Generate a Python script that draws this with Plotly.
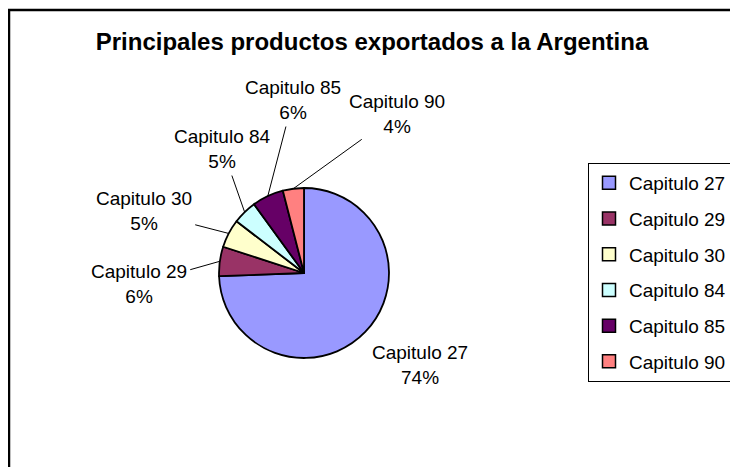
import math

import plotly.graph_objects as go

TITLE = 'Principales productos exportados a la Argentina'
CAPITULOS = ['Capitulo 27', 'Capitulo 29', 'Capitulo 30', 'Capitulo 84', 'Capitulo 85', 'Capitulo 90']
VALORES = [74.4, 5.6, 5.4, 4.6, 6.0, 4.0]
COLORES = ['#9999FF', '#993366', '#FFFFCC', '#CCFFFF', '#660066', '#FF8080']

# page has an 8px body margin, so the figure is a bit smaller than the window
W, H = 730, 459
FONT = 'Liberation Sans, Arial, sans-serif'

# pie centre and radius in figure pixels
cx, cy, r = 296, 265, 85
# where each data label sits, as pixel offset from the slice edge (layout only)
LABEL_OFFSETS = [(55, 33), (-81, 23), (-85, -22), (-22, -63), (25, -96), (104, -75)]

fig = go.Figure()
fig.add_trace(go.Pie(
    labels=CAPITULOS, values=VALORES, sort=False, direction='clockwise', rotation=0,
    marker=dict(colors=COLORES, line=dict(color='black', width=1.8)),
    textinfo='none', showlegend=False, hoverinfo='label+percent',
    domain=dict(x=[(cx - r) / W, (cx + r) / W], y=[1 - (cy + r) / H, 1 - (cy - r) / H]),
))

# Excel-like data labels with leader lines, anchored at each slice's mid angle
total = sum(VALORES)
acc = 0
annotations = []
for i, (name, val) in enumerate(zip(CAPITULOS, VALORES)):
    mid = (acc + val / 2) / total * 2 * math.pi
    acc += val
    px = cx + r * math.sin(mid)
    py = cy - r * math.cos(mid)
    dx, dy = LABEL_OFFSETS[i]
    annotations.append(dict(
        x=px / W, y=1 - py / H, xref='paper', yref='paper',
        text=f'{name}<br>{round(val / total * 100)}%',
        showarrow=True, arrowhead=0, arrowwidth=1, arrowcolor='black',
        ax=dx, ay=dy, standoff=0, startstandoff=2,
        font=dict(family=FONT, size=19, color='black'),
    ))
annotations[0]['arrowcolor'] = 'rgba(0,0,0,0)'

# legend entries as dummy squares so spacing can follow the original
for i, (name, col) in enumerate(zip(CAPITULOS, COLORES)):
    fig.add_trace(go.Scatter(
        x=[None], y=[None], mode='markers', name=name, legendgroup=f'g{i}',
        marker=dict(symbol='square', size=13, color=col, line=dict(color='black', width=1.5)),
    ))

fig.update_layout(
    width=W, height=H,
    margin=dict(l=0, r=0, t=0, b=0),
    paper_bgcolor='white', plot_bgcolor='white',
    font=dict(family=FONT, size=19, color='black'),
    title=dict(text=f'<b>{TITLE}</b>', x=364 / W, xanchor='center', y=1 - 34 / H, yanchor='middle',
               font=dict(family=FONT, size=24, color='black')),
    xaxis=dict(visible=False), yaxis=dict(visible=False),
    legend=dict(x=580 / W, y=1 - 155 / H, xanchor='left', yanchor='top',
                bgcolor='white', bordercolor='black', borderwidth=1, itemwidth=30,
                tracegroupgap=8, font=dict(family=FONT, size=19, color='black')),
    annotations=annotations,
    shapes=[dict(type='rect', xref='paper', yref='paper', x0=1 / W, x1=1.2, y0=-0.2, y1=1 - 2 / H,
                 line=dict(color='black', width=2.5))],
)

fig.write_html('out.html')
